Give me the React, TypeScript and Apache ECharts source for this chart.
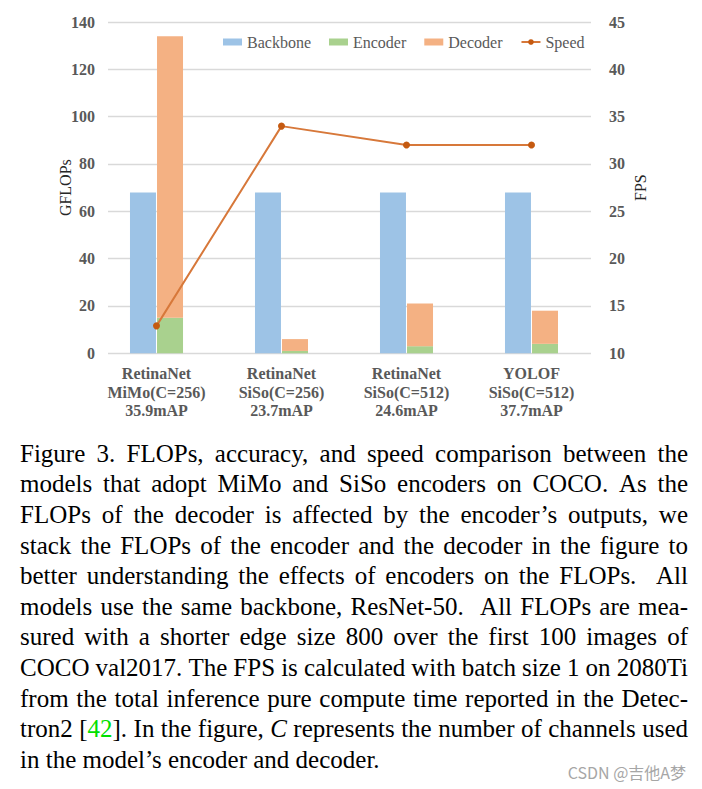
import React, { useEffect, useRef } from "react";
import * as echarts from "echarts";

const CATEGORIES = [
  "RetinaNet\nMiMo(C=256)\n35.9mAP",
  "RetinaNet\nSiSo(C=256)\n23.7mAP",
  "RetinaNet\nSiSo(C=512)\n24.6mAP",
  "YOLOF\nSiSo(C=512)\n37.7mAP",
];
const BACKBONE = [68, 68, 68, 68];
const ENCODER = [15, 1, 3, 4];
const DECODER = [119, 5, 18, 14];
const SPEED = [12.9, 34, 32, 32];

const GFLOPS_MIN = 0;
const GFLOPS_MAX = 140;
const GFLOPS_STEP = 20;
const FPS_MIN = 10;
const FPS_MAX = 45;
const FPS_STEP = 5;

const CAPTION_LINES = [
  "Figure 3. FLOPs, accuracy, and speed comparison between the",
  "models that adopt MiMo and SiSo encoders on COCO. As the",
  "FLOPs of the decoder is affected by the encoder\u2019s outputs, we",
  "stack the FLOPs of the encoder and the decoder in the figure to",
  "better understanding the effects of encoders on the FLOPs.  All",
  "models use the same backbone, ResNet-50.  All FLOPs are mea-",
  "sured with a shorter edge size 800 over the first 100 images of",
  "COCO val2017. The FPS is calculated with batch size 1 on 2080Ti",
  "from the total inference pure compute time reported in the Detec-",
  "tron2 [{g:42}]. In the figure, {i:C} represents the number of channels used",
  "in the model\u2019s encoder and decoder.",
];
const WATERMARK = "CSDN @\u5409\u4ed6A\u68a6";

const SERIF = "Liberation Serif";
const TICK_COLOR = "#595959";

const CAP_FS = 25;
const CAP_LEFT = 20;
const CAP_RIGHT = 688;
const CAP_Y0 = 453.3;
const CAP_LH = 30.6;

function layoutCaption(): any[] {
  const canvas = document.createElement("canvas");
  const ctx = canvas.getContext("2d") as CanvasRenderingContext2D;
  const measure = (t: string, italic: boolean) => {
    ctx.font = `${italic ? "italic " : ""}${CAP_FS}px "Liberation Serif"`;
    return ctx.measureText(t).width;
  };
  const spaceW = measure(" ", false);
  const W = CAP_RIGHT - CAP_LEFT;
  const els: any[] = [];
  CAPTION_LINES.forEach((line, li) => {
    const parts = line.split(/( +)/);
    const words: { segs: { t: string; italic: boolean; color: string; w: number }[]; w: number }[] = [];
    const seps: number[] = [];
    parts.forEach((p, idx) => {
      if (idx % 2 === 1) {
        seps.push(p.length);
        return;
      }
      const segs: any[] = [];
      const re = /\{([gi]):([^}]*)\}|[^{]+/g;
      let m: RegExpExecArray | null;
      while ((m = re.exec(p)) !== null) {
        if (m[1]) {
          const italic = m[1] === "i";
          const color = m[1] === "g" ? "#00e000" : "#000";
          segs.push({ t: m[2], italic, color, w: measure(m[2], italic) });
        } else {
          segs.push({ t: m[0], italic: false, color: "#000", w: measure(m[0], false) });
        }
      }
      words.push({ segs, w: segs.reduce((a: number, s: any) => a + s.w, 0) });
    });
    const sumW = words.reduce((a, w) => a + w.w, 0);
    const totalWeight = seps.reduce((a, b) => a + b, 0);
    const isLast = li === CAPTION_LINES.length - 1;
    let scale = 1;
    let unitGap = spaceW;
    if (!isLast && totalWeight > 0) {
      unitGap = (W - sumW) / totalWeight;
      const minGap = 3;
      if (unitGap < minGap) {
        unitGap = minGap;
        scale = (W - minGap * totalWeight) / sumW;
      }
    }
    const cy = CAP_Y0 + li * CAP_LH;
    let x = CAP_LEFT;
    words.forEach((wd, wi) => {
      let sx = x;
      wd.segs.forEach((s) => {
        els.push({
          type: "text",
          x: sx,
          y: cy,
          scaleX: scale,
          silent: true,
          style: {
            text: s.t,
            fontSize: CAP_FS,
            fontFamily: SERIF,
            fontStyle: s.italic ? "italic" : "normal",
            fill: s.color,
            align: "left",
            verticalAlign: "middle",
          },
        });
        sx += s.w * scale;
      });
      x += wd.w * scale;
      if (wi < seps.length) x += unitGap * seps[wi];
    });
  });
  els.push({
    type: "text",
    x: 686,
    y: 772,
    silent: true,
    style: {
      text: WATERMARK,
      fontSize: 16,
      fontFamily: "Noto Sans CJK SC",
      fill: "#a6a6a6",
      align: "right",
      verticalAlign: "middle",
    },
  });
  return els;
}

export default function App() {
  const ref = useRef<HTMLDivElement>(null);
  useEffect(() => {
    if (!ref.current) return;
    const chart = echarts.init(ref.current, undefined, { renderer: "svg" });
    const tickLabel = {
      fontFamily: SERIF,
      fontWeight: "bold" as const,
      fontSize: 16,
      color: TICK_COLOR,
    };
    const gridTop = 22;
    const gridHeight = 331.3;
    chart.setOption({
      animation: false,
      backgroundColor: "#ffffff",
      textStyle: { fontFamily: SERIF },
      grid: [
        { left: 94, width: 500, top: gridTop, height: gridHeight },
        { left: 108, width: 483, top: gridTop, height: gridHeight },
      ],
      legend: {
        left: 223,
        top: 34,
        padding: 0,
        itemWidth: 19,
        itemHeight: 7,
        itemGap: 18,
        textStyle: { fontFamily: SERIF, fontSize: 16, color: TICK_COLOR },
        data: [
          { name: "Backbone", icon: "rect" },
          { name: "Encoder", icon: "rect" },
          { name: "Decoder", icon: "rect" },
          { name: "Speed" },
        ],
      },
      xAxis: [
        {
          gridIndex: 0,
          type: "category",
          data: CATEGORIES,
          axisLine: { show: false },
          axisTick: { show: false },
          splitLine: { show: false },
          axisLabel: { ...tickLabel, lineHeight: 18.5, margin: 11, interval: 0 },
        },
        { gridIndex: 1, type: "value", min: 0, max: 1, show: false },
      ],
      yAxis: [
        {
          gridIndex: 0,
          type: "value",
          min: GFLOPS_MIN,
          max: GFLOPS_MAX,
          interval: GFLOPS_STEP,
          show: false,
          splitLine: { show: false },
        },
        {
          gridIndex: 0,
          type: "value",
          min: FPS_MIN,
          max: FPS_MAX,
          interval: FPS_STEP,
          show: false,
          splitLine: { show: false },
        },
        {
          gridIndex: 1,
          type: "value",
          position: "left",
          min: GFLOPS_MIN,
          max: GFLOPS_MAX,
          interval: GFLOPS_STEP,
          axisLine: { show: false },
          axisTick: { show: false },
          axisLabel: { ...tickLabel, margin: 13 },
          splitLine: { lineStyle: { color: "#d9d9d9", width: 1.3 } },
          name: "GFLOPs",
          nameLocation: "middle",
          nameRotate: 90,
          nameGap: 35,
          nameMoveOverlap: false,
          nameTextStyle: { fontFamily: SERIF, fontSize: 16, color: "#262626" },
        },
        {
          gridIndex: 1,
          type: "value",
          position: "right",
          min: FPS_MIN,
          max: FPS_MAX,
          interval: FPS_STEP,
          axisLine: { show: false },
          axisTick: { show: false },
          axisLabel: { ...tickLabel, margin: 18 },
          splitLine: { show: false },
          name: "FPS",
          nameLocation: "middle",
          nameRotate: 90,
          nameGap: 41,
          nameMoveOverlap: false,
          nameTextStyle: { fontFamily: SERIF, fontSize: 16, color: "#262626" },
        },
      ],
      series: [
        {
          name: "Backbone",
          type: "bar",
          xAxisIndex: 0,
          yAxisIndex: 0,
          stack: "bb",
          barWidth: 26,
          barGap: "4%",
          itemStyle: { color: "#9DC3E6" },
          data: BACKBONE,
        },
        {
          name: "Encoder",
          type: "bar",
          xAxisIndex: 0,
          yAxisIndex: 0,
          stack: "ed",
          barWidth: 26,
          itemStyle: { color: "#A9D18E" },
          data: ENCODER,
        },
        {
          name: "Decoder",
          type: "bar",
          xAxisIndex: 0,
          yAxisIndex: 0,
          stack: "ed",
          barWidth: 26,
          itemStyle: { color: "#F4B183" },
          data: DECODER,
        },
        {
          name: "Speed",
          type: "line",
          xAxisIndex: 0,
          yAxisIndex: 1,
          symbol: "circle",
          symbolSize: 7,
          lineStyle: { color: "#D7783A", width: 2 },
          itemStyle: { color: "#C55A11" },
          z: 5,
          data: SPEED,
        },
      ],
      graphic: layoutCaption(),
    });
    return () => chart.dispose();
  }, []);
  return (
    <div
      ref={ref}
      style={{ position: "fixed", left: 0, top: 0, width: 702, height: 789, background: "#fff" }}
    />
  );
}
